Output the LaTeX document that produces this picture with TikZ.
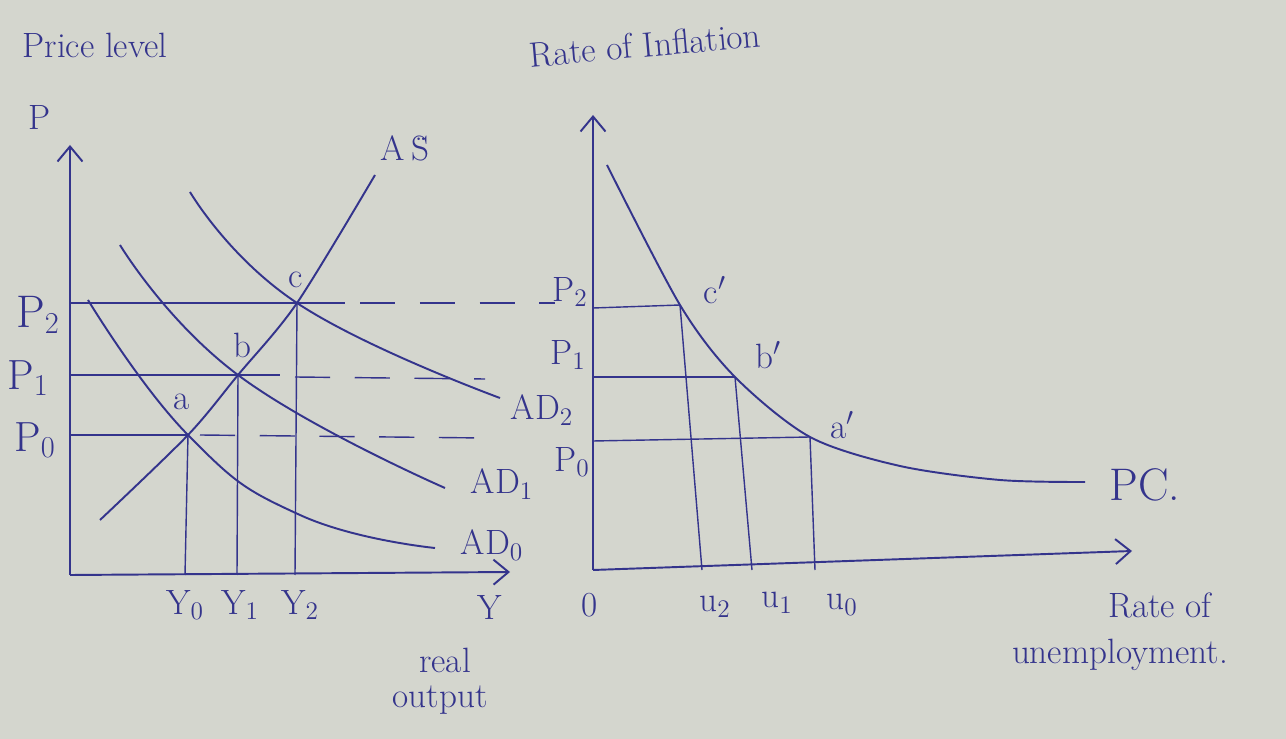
\documentclass[tikz,border=0pt]{standalone}
\usepackage{amsmath}
\usepackage{tikz}
\usetikzlibrary{arrows.meta,calc,positioning}
\definecolor{ink}{RGB}{52,52,140}
\definecolor{paper}{RGB}{212,214,206}

\begin{document}
\begin{tikzpicture}[x=0.2mm,y=-0.2mm,line width=1.1pt,
    every node/.style={text=ink,font=\fontsize{20}{24}\selectfont},
    axisline/.style={draw=ink,-{Straight Barb[length=3mm,width=5mm]}},
    curveline/.style={draw=ink},
    guideline/.style={draw=ink,line width=0.8pt},
    dashline/.style={draw=ink,line width=0.8pt,dash pattern=on 20pt off 14pt}]
                %Paper
                \fill[paper] (0,0) rectangle (1286,739);
                \useasboundingbox (0,0) rectangle (1286,739);
                %Points, left
                \coordinate (O1) at (70,575);
                \coordinate (yt1) at (70,145);
                \coordinate (xt1) at (510,572);
                \coordinate (a) at (188,435);
                \coordinate (b) at (238,375);
                \coordinate (c) at (297,303);
                %Points, right
                \coordinate (O2) at (593,570);
                \coordinate (yt2) at (593,115);
                \coordinate (xt2) at (1132,551);
                \coordinate (ap) at (810,437);
                \coordinate (bp) at (735,377);
                \coordinate (cp) at (680,305);
                %Axis
                \draw[axisline] (O1) -- (yt1);
                \draw[axisline] (O1) -- (xt1);
                \draw[axisline] (O2) -- (yt2);
                \draw[axisline] (O2) -- (xt2);
                %Curves, left
                \draw[curveline] plot[smooth] coordinates {(100,520) (a) (b) (c) (375,175)};
                \draw[curveline] plot[smooth,tension=0.8] coordinates {(88,300) (a) (300,515) (435,548)};
                \draw[curveline] plot[smooth,tension=0.8] coordinates {(120,245) (b) (445,488)};
                \draw[curveline] plot[smooth,tension=0.8] coordinates {(190,192) (c) (500,398)};
                %Guides, left
                \draw[guideline] (70,303) -- (c);
                \draw[guideline] (70,375) -- (b);
                \draw[guideline] (70,435) -- (a);
                \draw[guideline] (c) -- (345,303);
                \draw[guideline] (b) -- (280,375);
                \draw[dashline] (360,303) -- (555,303);
                \draw[dashline] (295,377) -- (485,379);
                \draw[dashline] (200,435) -- (485,438);
                \draw[guideline] (a) -- (185,575);
                \draw[guideline] (b) -- (237,575);
                \draw[guideline] (c) -- (295,575);
                %Curve, right
                \draw[curveline] plot[smooth] coordinates {(607,165) (cp) (bp) (ap) (900,466) (1000,480) (1085,482)};
                %Guides, right
                \draw[guideline] (593,308) -- (cp);
                \draw[guideline] (593,377) -- (bp);
                \draw[guideline] (593,441) -- (ap);
                \draw[guideline] (cp) -- (702,570);
                \draw[guideline] (bp) -- (752,570);
                \draw[guideline] (ap) -- (815,570);
                %Labels, left
                \node (plev) at (95,45) {Price level};
                \node (plab) at (40,118) {P};
                \node (aslab) at (405,148) {A\,\"S};
                \node (alab) at (182,402) {a};
                \node (blab) at (242,345) {b};
                \node (clab) at (296,280) {c};
                \node (p2l) at (38,315) {\fontsize{26}{30}\selectfont P$_2$};
                \node (p1l) at (28,378) {\fontsize{24}{28}\selectfont P$_1$};
                \node (p0l) at (35,440) {\fontsize{24}{28}\selectfont P$_0$};
                \node (ad2l) at (542,410) {AD$_2$};
                \node (ad1l) at (502,484) {AD$_1$};
                \node (ad0l) at (492,545) {AD$_0$};
                \node (y0l) at (185,605) {Y$_0$};
                \node (y1l) at (240,605) {Y$_1$};
                \node (y2l) at (300,605) {Y$_2$};
                \node (yl) at (490,607) {Y};
                \node (real) at (445,660) {real};
                \node (outp) at (440,700) {output};
                %Labels, right
                \node[rotate=5] (rinf) at (645,45) {Rate of Inflation};
                \node (q2l) at (570,292) {P$_2$};
                \node (q1l) at (568,355) {P$_1$};
                \node (q0l) at (572,462) {P$_0$};
                \node (cpl) at (715,290) {c$'$};
                \node (bpl) at (768,355) {b$'$};
                \node (apl) at (842,425) {a$'$};
                \node (pcl) at (1145,485) {\fontsize{26}{30}\selectfont PC.};
                \node (zl) at (590,605) {0};
                \node (u2l) at (715,607) {u$_2$};
                \node (u1l) at (777,603) {u$_1$};
                \node (u0l) at (842,605) {u$_0$};
                \node (rate) at (1160,605) {Rate of};
                \node (unemp) at (1120,655) {unemployment.};
            \end{tikzpicture}
\end{document}
